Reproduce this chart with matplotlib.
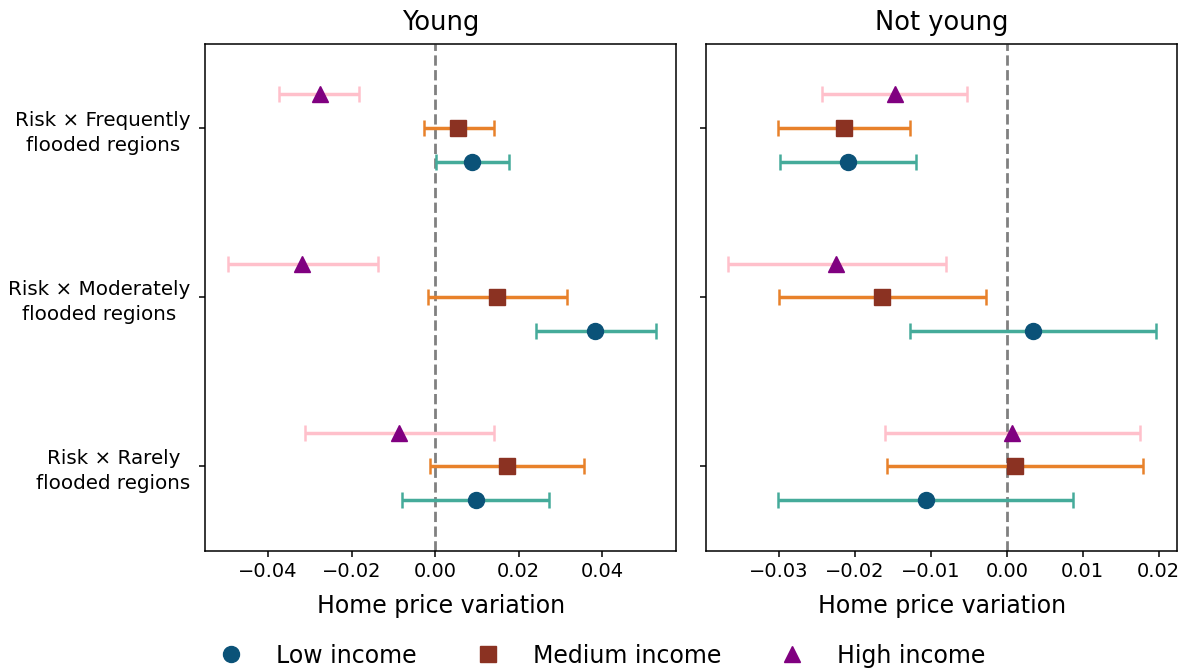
import matplotlib
matplotlib.use('Agg')
import matplotlib.pyplot as plt
from matplotlib.lines import Line2D
import numpy as np

#----- estimates per panel: [Frequently, Moderately, Rarely]
categories = ['Risk × Frequently\nflooded regions', 'Risk × Moderately\nflooded regions', 'Risk × Rarely\nflooded regions']
groups = ['Low income', 'Medium income', 'High income']

young_est = {'Low income': [0.0087, 0.0383, 0.0097],
             'Medium income': [0.0054, 0.0147, 0.0171],
             'High income': [-0.0276, -0.0319, -0.0087]}
young_lo = {'Low income': [0.0001, 0.0242, -0.0080],
            'Medium income': [-0.0027, -0.0018, -0.0013],
            'High income': [-0.0374, -0.0496, -0.0312]}
young_hi = {'Low income': [0.0176, 0.0527, 0.0273],
            'Medium income': [0.0140, 0.0316, 0.0357],
            'High income': [-0.0183, -0.0137, 0.0140]}

old_est = {'Low income': [-0.0209, 0.0035, -0.0107],
           'Medium income': [-0.0214, -0.0165, 0.0011],
           'High income': [-0.0147, -0.0225, 0.0007]}
old_lo = {'Low income': [-0.0299, -0.0127, -0.0301],
          'Medium income': [-0.0301, -0.0300, -0.0158],
          'High income': [-0.0243, -0.0368, -0.0160]}
old_hi = {'Low income': [-0.0119, 0.0197, 0.0087],
          'Medium income': [-0.0127, -0.0028, 0.0180],
          'High income': [-0.0052, -0.0080, 0.0175]}

markers = {'Low income': 'o', 'Medium income': 's', 'High income': '^'}
mcolors = {'Low income': '#0b5278', 'Medium income': '#8b3222', 'High income': '#800080'}
ecolors = {'Low income': '#45ab9a', 'Medium income': '#e8812a', 'High income': '#ffc0cb'}
offsets = {'Low income': 0.2, 'Medium income': 0.0, 'High income': -0.2}

plt.rcParams['axes.linewidth'] = 1.1
fig = plt.figure(figsize=(11.93, 6.72), dpi=100)
ax1 = fig.add_axes([0.172, 0.18, 0.395, 0.755])
ax2 = fig.add_axes([0.592, 0.18, 0.395, 0.755])

ypos = np.arange(len(categories))
for ax, est, lo, hi, title in [(ax1, young_est, young_lo, young_hi, 'Young'),
                                (ax2, old_est, old_lo, old_hi, 'Not young')]:
    ax.axvline(0, color='grey', linestyle='--', linewidth=2, zorder=1)
    for g in groups:
        e = np.array(est[g])
        xerr = [e - np.array(lo[g]), np.array(hi[g]) - e]
        ax.errorbar(e, ypos + offsets[g], xerr=xerr, fmt=markers[g], color=mcolors[g],
                    ecolor=ecolors[g], elinewidth=2.5, capsize=6, capthick=1.8,
                    markersize=11.5, zorder=3)
    ax.set_ylim(2.5, -0.5)
    ax.set_yticks(ypos)
    ax.set_title(title, fontsize=18.5, pad=10)
    ax.set_xlabel('Home price variation', fontsize=17, labelpad=9)
    ax.tick_params(axis='x', labelsize=14, width=1.1, length=4.5)
    ax.tick_params(axis='y', labelsize=14.3, width=1.1, length=4.5, pad=6)

ax1.set_yticklabels(categories)
for t in ax1.get_yticklabels():
    t.set_multialignment('center')
    t.set_linespacing(1.4)
ax2.set_yticklabels([])
ax1.set_xlim(-0.0550, 0.0577)
ax2.set_xlim(-0.0396, 0.0225)
ax1.set_xticks([-0.04, -0.02, 0.0, 0.02, 0.04])
ax2.set_xticks([-0.03, -0.02, -0.01, 0.0, 0.01, 0.02])

handles = [Line2D([], [], linestyle='none', marker=markers[g], color=mcolors[g], markersize=11.5)
           for g in groups]
fig.legend(handles, groups, loc='lower center', ncol=3, frameon=False, fontsize=17,
           bbox_to_anchor=(0.5, -0.025), columnspacing=2.0, handletextpad=0.9)

plt.savefig('out.png')
plt.close('all')
